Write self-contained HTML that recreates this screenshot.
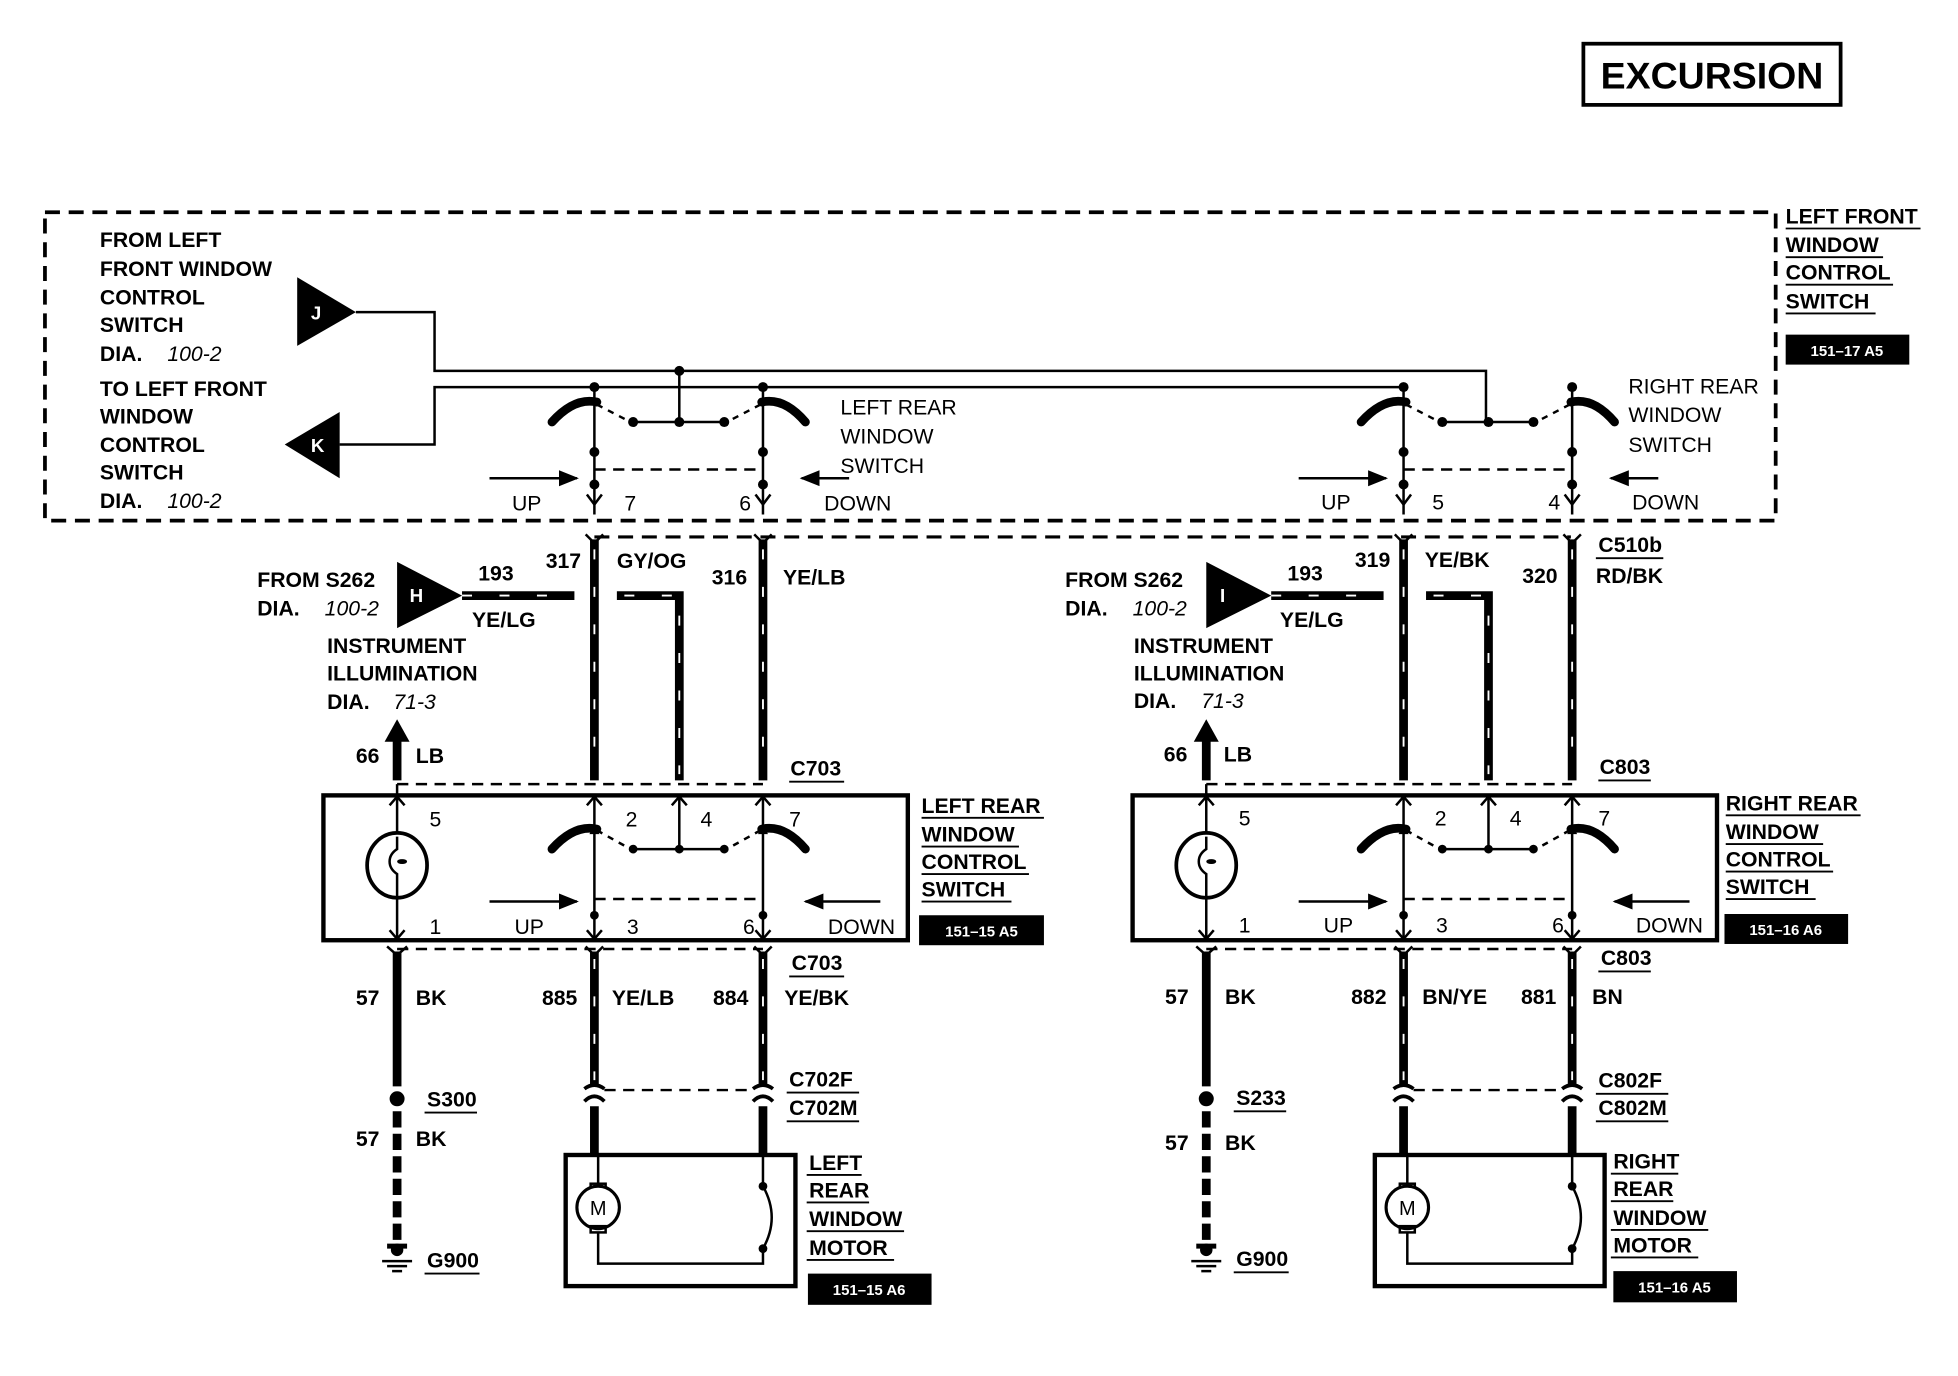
<!DOCTYPE html>
<html><head><meta charset="utf-8"><style>
html,body{margin:0;padding:0;background:#fff;}
svg{display:block;}
text{font-family:"Liberation Sans",sans-serif;font-weight:bold;font-size:17px;fill:#000;}
.it{font-style:italic;font-weight:normal;}
.w{fill:#fff;font-size:12px;}
</style></head><body>
<svg width="1958" height="1376" viewBox="0 0 1568 1102" preserveAspectRatio="none" xmlns="http://www.w3.org/2000/svg">
<defs>
<marker id="ar" viewBox="0 0 10 10" refX="9" refY="5" markerWidth="8" markerHeight="8" orient="auto"><path d="M0,1 L10,5 L0,9 z" fill="#000"/></marker>
</defs>
<!-- EXCURSION -->
<rect x="1268" y="35" width="206" height="49" fill="none" stroke="#000" stroke-width="3"/>
<text x="1371" y="71" text-anchor="middle" style="font-size:30px">EXCURSION</text>
<!-- dashed box -->
<rect x="36" y="170" width="1386" height="247" fill="none" stroke="#000" stroke-width="3" stroke-dasharray="12 7"/>
<!-- top left labels -->
<g>
<text x="80" y="198">FROM LEFT</text><text x="80" y="221">FRONT WINDOW</text><text x="80" y="244">CONTROL</text><text x="80" y="266">SWITCH</text><text x="80" y="289">DIA.</text><text x="134" y="289" class="it">100-2</text>
<text x="80" y="317">TO LEFT FRONT</text><text x="80" y="339">WINDOW</text><text x="80" y="362">CONTROL</text><text x="80" y="384">SWITCH</text><text x="80" y="407">DIA.</text><text x="134" y="407" class="it">100-2</text>
</g>
<polygon points="238,222 238,277 285,250" fill="#000"/><text x="249" y="256" class="w" style="font-size:15px">J</text>
<polygon points="272,330 272,383 228,356" fill="#000"/><text x="249" y="362" class="w" style="font-size:15px">K</text>
<polyline points="285,250 348,250 348,297 1190,297 1190,338" fill="none" stroke="#000" stroke-width="2"/>
<polyline points="272,356 348,356 348,310 1122,310" fill="none" stroke="#000" stroke-width="2"/>
<line x1="544" y1="297" x2="544" y2="338" stroke="#000" stroke-width="2"/>
<circle cx="544" cy="297" r="4"/>
<!-- C510b dashed -->
<line x1="476" y1="430" x2="1258" y2="430" stroke="#000" stroke-width="2.5" stroke-dasharray="12 7"/>

<g id="half">
 <!-- top switch -->
 <path d="M442,338 Q460,318 478,322" fill="none" stroke="#000" stroke-width="7" stroke-linecap="round"/>
 <path d="M645,338 Q628,318 610,322" fill="none" stroke="#000" stroke-width="7" stroke-linecap="round"/>
 <line x1="476" y1="310" x2="476" y2="412" stroke="#000" stroke-width="2"/>
 <line x1="611" y1="310" x2="611" y2="412" stroke="#000" stroke-width="2"/>
 <path d="M476,404 l-6,-8 M476,404 l6,-8 M611,404 l-6,-8 M611,404 l6,-8" stroke="#000" stroke-width="2"/>
 <circle cx="476" cy="310" r="4"/><circle cx="611" cy="310" r="4"/>
 <circle cx="476" cy="362" r="4"/><circle cx="611" cy="362" r="4"/>
 <circle cx="476" cy="388" r="4"/><circle cx="611" cy="388" r="4"/>
 <line x1="478" y1="324" x2="505" y2="338" stroke="#000" stroke-width="2" stroke-dasharray="5 5"/>
 <line x1="609" y1="324" x2="582" y2="338" stroke="#000" stroke-width="2" stroke-dasharray="5 5"/>
 <line x1="507" y1="338" x2="580" y2="338" stroke="#000" stroke-width="2"/>
 <circle cx="507" cy="338" r="4"/><circle cx="544" cy="338" r="4"/><circle cx="580" cy="338" r="4"/>
 <line x1="476" y1="376" x2="611" y2="376" stroke="#000" stroke-width="2" stroke-dasharray="9 6"/>
 <line x1="392" y1="383" x2="462" y2="383" stroke="#000" stroke-width="2" marker-end="url(#ar)"/>
 <line x1="680" y1="383" x2="642" y2="383" stroke="#000" stroke-width="2" marker-end="url(#ar)"/>
 <!-- H triangle and 193 wire -->
 <polygon points="318,450 318,503 370,477" fill="#000"/>
 <line x1="370" y1="477" x2="460" y2="477" stroke="#000" stroke-width="7"/>
 <line x1="370" y1="477" x2="460" y2="477" stroke="#fff" stroke-width="1.5" stroke-dasharray="8 22"/>
 <!-- vertical wires top -->
 <g stroke="#000" stroke-width="7" fill="none">
  <line x1="476" y1="432" x2="476" y2="625"/>
  <polyline points="494,477 544,477 544,625"/>
  <line x1="611" y1="432" x2="611" y2="625"/>
 </g>
 <g stroke="#fff" stroke-width="1.5" stroke-dasharray="8 22" fill="none">
  <line x1="476" y1="440" x2="476" y2="620"/>
  <polyline points="500,477 544,477 544,620"/>
  <line x1="611" y1="440" x2="611" y2="620"/>
 </g>
 <path d="M469,428 l7,7 l7,-7 M604,428 l7,7 l7,-7" stroke="#000" stroke-width="2" fill="none"/>
 <!-- 66 LB arrow -->
 <line x1="318" y1="625" x2="318" y2="592" stroke="#000" stroke-width="7"/>
 <polygon points="308,594 328,594 318,576" fill="#000"/>
 <!-- C703 dashed -->
 <line x1="318" y1="628" x2="611" y2="628" stroke="#000" stroke-width="2" stroke-dasharray="9 6"/>
 <line x1="318" y1="760" x2="611" y2="760" stroke="#000" stroke-width="2" stroke-dasharray="9 6"/>
 <!-- module -->
 <rect x="259" y="637" width="468" height="116" fill="none" stroke="#000" stroke-width="3.5"/>
 <line x1="318" y1="628" x2="318" y2="753" stroke="#000" stroke-width="2"/>
 <ellipse cx="318" cy="693" rx="24" ry="26" fill="#fff" stroke="#000" stroke-width="3"/>
 <path d="M318,670 v10 q-6,4 -6,10 q0,6 6,10 v18" fill="none" stroke="#000" stroke-width="2"/>
 <ellipse cx="322" cy="690" rx="4" ry="2"/>
 <path d="M312,645 l6,-7 l6,7 M312,745 l6,7 l6,-7" stroke="#000" stroke-width="2" fill="none"/>
 <path d="M442,680 Q460,660 478,664" fill="none" stroke="#000" stroke-width="7" stroke-linecap="round"/>
 <path d="M645,680 Q628,660 610,664" fill="none" stroke="#000" stroke-width="7" stroke-linecap="round"/>
 <line x1="476" y1="637" x2="476" y2="753" stroke="#000" stroke-width="2"/>
 <line x1="611" y1="637" x2="611" y2="753" stroke="#000" stroke-width="2"/>
 <line x1="544" y1="637" x2="544" y2="680" stroke="#000" stroke-width="2"/>
 <path d="M470,645 l6,-7 l6,7 M538,645 l6,-7 l6,7 M605,645 l6,-7 l6,7 M470,745 l6,7 l6,-7 M605,745 l6,7 l6,-7" stroke="#000" stroke-width="2" fill="none"/>
 <polygon points="472,668 480,668 476,660" fill="#000"/><polygon points="607,668 615,668 611,660" fill="#000"/>
 <line x1="478" y1="665" x2="505" y2="680" stroke="#000" stroke-width="2" stroke-dasharray="5 5"/>
 <line x1="609" y1="665" x2="582" y2="680" stroke="#000" stroke-width="2" stroke-dasharray="5 5"/>
 <line x1="507" y1="680" x2="580" y2="680" stroke="#000" stroke-width="2"/>
 <circle cx="507" cy="680" r="3.5"/><circle cx="544" cy="680" r="3.5"/><circle cx="580" cy="680" r="3.5"/>
 <line x1="476" y1="720" x2="611" y2="720" stroke="#000" stroke-width="2" stroke-dasharray="9 6"/>
 <circle cx="476" cy="733" r="3.5"/><circle cx="611" cy="733" r="3.5"/>
 <line x1="392" y1="722" x2="462" y2="722" stroke="#000" stroke-width="2" marker-end="url(#ar)"/>
 <line x1="705" y1="722" x2="645" y2="722" stroke="#000" stroke-width="2" marker-end="url(#ar)"/>
 <!-- lower wires -->
 <line x1="318" y1="762" x2="318" y2="870" stroke="#000" stroke-width="7"/>
 <circle cx="318" cy="880" r="6"/>
 <line x1="318" y1="890" x2="318" y2="995" stroke="#000" stroke-width="7" stroke-dasharray="13 5"/>
 <path d="M310,1000 h16 v-4 h-16z" fill="#000"/>
 <circle cx="318" cy="1001" r="5"/>
 <path d="M306,1010 h24 M310,1014 h16 M314,1018 h8" stroke="#000" stroke-width="2"/>
 <g stroke="#000" stroke-width="7">
  <line x1="476" y1="762" x2="476" y2="870"/><line x1="611" y1="762" x2="611" y2="870"/>
  <line x1="476" y1="886" x2="476" y2="925"/><line x1="611" y1="886" x2="611" y2="925"/>
 </g>
 <g stroke="#fff" stroke-width="1.5" stroke-dasharray="8 22">
  <line x1="476" y1="768" x2="476" y2="865"/><line x1="611" y1="768" x2="611" y2="865"/>
 </g>
 <path d="M468,872 q8,-6 16,0 M603,872 q8,-6 16,0 M468,882 q8,-8 16,0 M603,882 q8,-8 16,0" stroke="#000" stroke-width="3" fill="none"/>
 <line x1="484" y1="873" x2="603" y2="873" stroke="#000" stroke-width="2" stroke-dasharray="9 6"/>
 <path d="M469,758 l7,7 l7,-7 M604,758 l7,7 l7,-7 M310,758 l8,7 l8,-7" stroke="#000" stroke-width="2" fill="none"/>
 <!-- motor -->
 <rect x="453" y="925" width="184" height="105" fill="none" stroke="#000" stroke-width="3.5"/>
 <line x1="479" y1="925" x2="479" y2="950" stroke="#000" stroke-width="2"/>
 <rect x="473" y="948" width="12" height="5" fill="none" stroke="#000" stroke-width="2"/>
 <circle cx="479" cy="967" r="17" fill="#fff" stroke="#000" stroke-width="2.5"/>
 <text x="479" y="973" text-anchor="middle" style="font-size:16px;font-weight:normal">M</text>
 <rect x="473" y="982" width="12" height="5" fill="none" stroke="#000" stroke-width="2"/>
 <polyline points="479,987 479,1012 611,1012 611,1000" fill="none" stroke="#000" stroke-width="2"/>
 <line x1="611" y1="925" x2="611" y2="950" stroke="#000" stroke-width="2"/>
 <circle cx="611" cy="950" r="3.5"/><circle cx="611" cy="1000" r="3.5"/>
 <path d="M611,950 q14,25 0,50" fill="none" stroke="#000" stroke-width="2"/>
</g>
<use href="#half" transform="translate(648,0)"/>

<!-- left labels -->
<text x="673" y="332" style="font-weight:normal">LEFT REAR</text><text x="673" y="355" style="font-weight:normal">WINDOW</text><text x="673" y="379" style="font-weight:normal">SWITCH</text>
<text x="410" y="409" style="font-weight:normal">UP</text><text x="500" y="409" style="font-weight:normal">7</text><text x="592" y="409" style="font-weight:normal">6</text><text x="660" y="409" style="font-weight:normal">DOWN</text>
<text x="206" y="470">FROM S262</text><text x="206" y="493">DIA.</text><text x="260" y="493" class="it">100-2</text>
<text x="328" y="482" class="w" style="font-size:15px">H</text>
<text x="383" y="465">193</text><text x="378" y="502">YE/LG</text>
<text x="437" y="455">317</text><text x="494" y="455">GY/OG</text><text x="570" y="468">316</text><text x="627" y="468">YE/LB</text>
<text x="262" y="523">INSTRUMENT</text><text x="262" y="545">ILLUMINATION</text><text x="262" y="568">DIA.</text><text x="315" y="568" class="it">71-3</text>
<text x="285" y="611">66</text><text x="333" y="611">LB</text>
<text x="633" y="621">C703</text><line x1="632" y1="626" x2="676" y2="626" stroke="#000" stroke-width="1.5"/>
<text x="344" y="662" style="font-weight:normal">5</text><text x="344" y="748" style="font-weight:normal">1</text>
<text x="501" y="662" style="font-weight:normal">2</text><text x="561" y="662" style="font-weight:normal">4</text><text x="632" y="662" style="font-weight:normal">7</text>
<text x="412" y="748" style="font-weight:normal">UP</text><text x="502" y="748" style="font-weight:normal">3</text><text x="595" y="748" style="font-weight:normal">6</text><text x="663" y="748" style="font-weight:normal">DOWN</text>
<g><text x="738" y="651">LEFT REAR</text><text x="738" y="674">WINDOW</text><text x="738" y="696">CONTROL</text><text x="738" y="718">SWITCH</text>
<path d="M738,655h98M738,678h78M738,700h86M738,722h72" stroke="#000" stroke-width="1.5"/></g>
<rect x="736" y="733" width="100" height="24" fill="#000"/><text x="786" y="750" class="w" text-anchor="middle">151–15 A5</text>
<text x="634" y="777">C703</text><line x1="632" y1="782" x2="676" y2="782" stroke="#000" stroke-width="1.5"/>
<text x="285" y="805">57</text><text x="333" y="805">BK</text>
<text x="434" y="805">885</text><text x="490" y="805">YE/LB</text><text x="571" y="805">884</text><text x="628" y="805">YE/BK</text>
<text x="342" y="886">S300</text><line x1="340" y1="891" x2="382" y2="891" stroke="#000" stroke-width="1.5"/>
<text x="285" y="918">57</text><text x="333" y="918">BK</text>
<text x="342" y="1015">G900</text><line x1="340" y1="1020" x2="384" y2="1020" stroke="#000" stroke-width="1.5"/>
<text x="632" y="870">C702F</text><text x="632" y="893">C702M</text><path d="M630,875h58M630,898h58" stroke="#000" stroke-width="1.5"/>
<g><text x="648" y="937">LEFT</text><text x="648" y="959">REAR</text><text x="648" y="982">WINDOW</text><text x="648" y="1005">MOTOR</text>
<path d="M646,941h44M646,963h50M646,986h78M646,1009h70" stroke="#000" stroke-width="1.5"/></g>
<rect x="647" y="1020" width="99" height="25" fill="#000"/><text x="696" y="1037" class="w" text-anchor="middle">151–15 A6</text>

<!-- right labels -->
<text x="1304" y="315" style="font-weight:normal">RIGHT REAR</text><text x="1304" y="338" style="font-weight:normal">WINDOW</text><text x="1304" y="362" style="font-weight:normal">SWITCH</text>
<text x="1058" y="408" style="font-weight:normal">UP</text><text x="1147" y="408" style="font-weight:normal">5</text><text x="1240" y="408" style="font-weight:normal">4</text><text x="1307" y="408" style="font-weight:normal">DOWN</text>
<g><text x="1430" y="179">LEFT FRONT</text><text x="1430" y="202">WINDOW</text><text x="1430" y="224">CONTROL</text><text x="1430" y="247">SWITCH</text>
<path d="M1430,183h108M1430,206h78M1430,228h86M1430,251h72" stroke="#000" stroke-width="1.5"/></g>
<rect x="1430" y="268" width="99" height="24" fill="#000"/><text x="1479" y="285" class="w" text-anchor="middle">151–17 A5</text>
<text x="853" y="470">FROM S262</text><text x="853" y="493">DIA.</text><text x="907" y="493" class="it">100-2</text>
<text x="977" y="482" class="w" style="font-size:15px">I</text>
<text x="1031" y="465">193</text><text x="1025" y="502">YE/LG</text>
<text x="1085" y="454">319</text><text x="1141" y="454">YE/BK</text><text x="1219" y="467">320</text><text x="1278" y="467">RD/BK</text>
<text x="1280" y="442">C510b</text><line x1="1278" y1="447" x2="1332" y2="447" stroke="#000" stroke-width="1.5"/>
<text x="908" y="523">INSTRUMENT</text><text x="908" y="545">ILLUMINATION</text><text x="908" y="567">DIA.</text><text x="962" y="567" class="it">71-3</text>
<text x="932" y="610">66</text><text x="980" y="610">LB</text>
<text x="1281" y="620">C803</text><line x1="1280" y1="625" x2="1322" y2="625" stroke="#000" stroke-width="1.5"/>
<text x="992" y="661" style="font-weight:normal">5</text><text x="992" y="747" style="font-weight:normal">1</text>
<text x="1149" y="661" style="font-weight:normal">2</text><text x="1209" y="661" style="font-weight:normal">4</text><text x="1280" y="661" style="font-weight:normal">7</text>
<text x="1060" y="747" style="font-weight:normal">UP</text><text x="1150" y="747" style="font-weight:normal">3</text><text x="1243" y="747" style="font-weight:normal">6</text><text x="1310" y="747" style="font-weight:normal">DOWN</text>
<g><text x="1382" y="649">RIGHT REAR</text><text x="1382" y="672">WINDOW</text><text x="1382" y="694">CONTROL</text><text x="1382" y="716">SWITCH</text>
<path d="M1382,653h108M1382,676h78M1382,698h86M1382,720h72" stroke="#000" stroke-width="1.5"/></g>
<rect x="1381" y="732" width="99" height="24" fill="#000"/><text x="1430" y="749" class="w" text-anchor="middle">151–16 A6</text>
<text x="1282" y="773">C803</text><line x1="1280" y1="778" x2="1322" y2="778" stroke="#000" stroke-width="1.5"/>
<text x="933" y="804">57</text><text x="981" y="804">BK</text>
<text x="1082" y="804">882</text><text x="1139" y="804">BN/YE</text><text x="1218" y="804">881</text><text x="1275" y="804">BN</text>
<text x="990" y="885">S233</text><line x1="988" y1="890" x2="1030" y2="890" stroke="#000" stroke-width="1.5"/>
<text x="933" y="921">57</text><text x="981" y="921">BK</text>
<text x="990" y="1014">G900</text><line x1="988" y1="1019" x2="1032" y2="1019" stroke="#000" stroke-width="1.5"/>
<text x="1280" y="871">C802F</text><text x="1280" y="893">C802M</text><path d="M1278,876h58M1278,898h58" stroke="#000" stroke-width="1.5"/>
<g><text x="1292" y="936">RIGHT</text><text x="1292" y="958">REAR</text><text x="1292" y="981">WINDOW</text><text x="1292" y="1003">MOTOR</text>
<path d="M1290,940h54M1290,962h50M1290,985h78M1290,1007h70" stroke="#000" stroke-width="1.5"/></g>
<rect x="1292" y="1018" width="99" height="25" fill="#000"/><text x="1341" y="1035" class="w" text-anchor="middle">151–16 A5</text>
</svg>
</body></html>
